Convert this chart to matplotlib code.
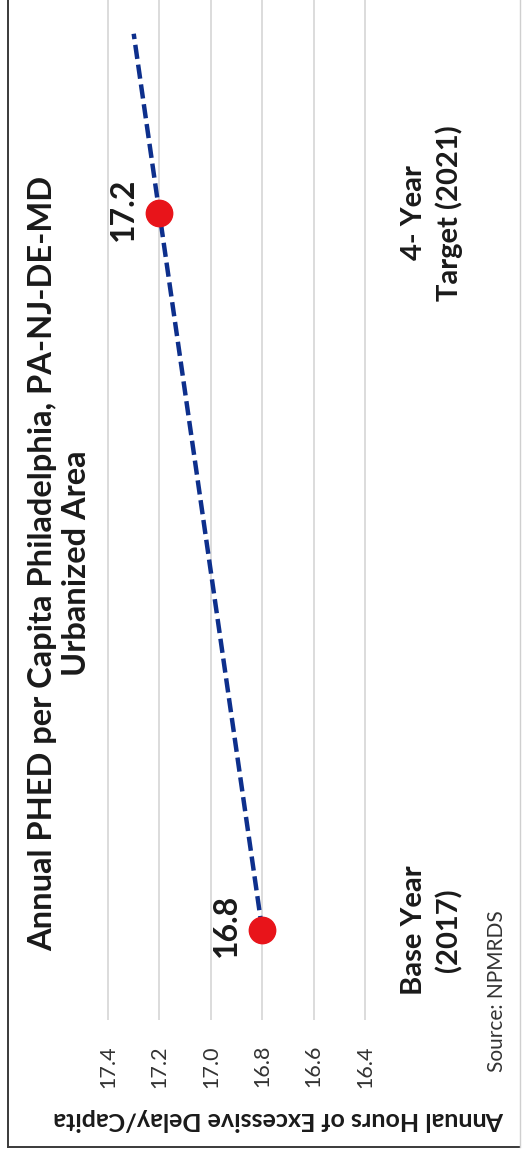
import numpy as np
import matplotlib
matplotlib.use("Agg")
import matplotlib.pyplot as plt
from matplotlib.lines import Line2D

plt.rcParams['font.family'] = ['Lato', 'DejaVu Sans']

# data
categories = ["Base Year\n(2017)", "4- Year\nTarget (2021)"]
values = [16.8, 17.2]
value_ticks = [16.4, 16.6, 16.8, 17.0, 17.2, 17.4]
tick_labels = ["16.4", "16.6", "16.8", "17.0", "17.2", "17.4"]
forecast_forward = 0.25

title = "Annual PHED per Capita Philadelphia, PA-NJ-DE-MD\nUrbanized Area"
value_title = "Annual Hours of Excessive Delay/Capita"
source = "Source: NPMRDS"

W, H = 524, 1156
fig = plt.figure(figsize=(W / 100, H / 100), dpi=100)

# the page is turned a quarter turn: values run right-to-left, categories upward
x0, x1 = 103, 370
ax = fig.add_axes([x0 / W, (H - 1020) / H, (x1 - x0) / W, 1020 / H])

pos = np.arange(len(values))
slope, icpt = np.polyfit(pos, values, 1)
tpos = np.array([pos[0], pos[-1] + forecast_forward])
ax.plot(slope * tpos + icpt, tpos, color='#0d2f8c', lw=3.2,
        dashes=(3.2, 1.3), zorder=2)
ax.plot(values, pos, 'o', color='#e8141a', ms=19, zorder=3)

for v, p in zip(values, pos):
    ax.annotate(f"{v:.1f}", (v, p), xytext=(-26, 3), textcoords='offset points',
                rotation=90, ha='center', va='center', fontsize=23,
                fontweight='bold', color='#1a1a1a')

ax.set_xlim(17.4 + 5 / 257, 16.4 - 5 / 257)
ax.set_ylim(-90 / 717, 1 + 213 / 717)

ax.set_xticks(value_ticks)
ax.set_xticklabels(tick_labels, rotation=90, fontsize=15.5, color='#333333')
ax.tick_params(axis='x', length=0, pad=18)
ax.grid(axis='x', color='#d9d9d9', lw=1.3)

ax.yaxis.tick_right()
ax.set_yticks(pos)
ax.set_yticklabels(categories, rotation=90, fontsize=21, fontweight='bold',
                   va='center', multialignment='center', color='#1a1a1a',
                   linespacing=1.4)
ax.tick_params(axis='y', length=0, pad=22)

ax.set_xlabel(value_title, rotation=180, fontsize=18, fontweight='bold',
              color='#1a1a1a')
ax.xaxis.set_label_coords((279 - x0) / (x1 - x0), -(1119 - 1020) / 1020)
ax.xaxis.label.set_va('center')

for s in ax.spines.values():
    s.set_visible(False)

fig.text(60 / W, 1 - 563 / H, title, rotation=90, ha='center', va='center',
         multialignment='center', fontsize=23.5, fontweight='bold',
         color='#1a1a1a', linespacing=1.2)
fig.text(497 / W, 1 - 991 / H, source, rotation=90, ha='center', va='center',
         fontsize=15, color='#333333')

# outer chart border
by = 1 - 1147 / H
fig.add_artist(Line2D([8 / W, 8 / W], [1, by], color='#3a3a3a', lw=1.4))
fig.add_artist(Line2D([8 / W, 520 / W], [by, by], color='#3a3a3a', lw=1.4))
fig.add_artist(Line2D([520 / W, 520 / W], [1, by], color='#cfcfcf', lw=1.0))

fig.savefig("out.png", dpi=100)
